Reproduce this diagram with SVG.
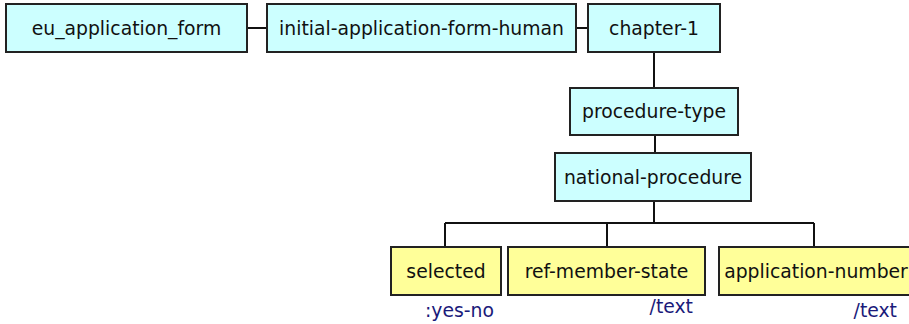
<svg xmlns="http://www.w3.org/2000/svg" width="909" height="324" viewBox="0 0 909 324">
<style>
.c{fill:#ccffff;stroke:#222;stroke-width:2}
.y{fill:#ffff99;stroke:#222;stroke-width:2}
.t{font-family:"DejaVu Sans",Verdana,sans-serif;font-size:18.8px;fill:#111;text-anchor:middle}
.l{font-family:"DejaVu Sans",Verdana,sans-serif;font-size:18.8px;fill:#1a1a7a}
.e{fill:none;stroke:#111;stroke-width:2}
</style>
<rect width="909" height="324" fill="#fff"/>
<g id="connectors">
<path class="e" d="M247 28H267M576 28H588M654 52V88M655 135V153M654 201V223M445 223H814M445 223V247M607 223V247M814 223V247"/>
</g>
<g id="eu_application_form"><rect class="c" x="6" y="4" width="241" height="48"/><text class="t" x="126.5" y="35">eu_application_form</text></g>
<g id="initial-application-form-human"><rect class="c" x="267" y="4" width="309" height="48"/><text class="t" x="421.5" y="35">initial-application-form-human</text></g>
<g id="chapter-1"><rect class="c" x="588" y="4" width="132" height="48"/><text class="t" x="654" y="35">chapter-1</text></g>
<g id="procedure-type"><rect class="c" x="570" y="88" width="168" height="47"/><text class="t" x="654" y="118">procedure-type</text></g>
<g id="national-procedure"><rect class="c" x="555" y="153" width="196" height="48"/><text class="t" x="653" y="184">national-procedure</text></g>
<g id="selected"><rect class="y" x="391" y="247" width="110" height="48"/><text class="t" x="446" y="278">selected</text><text class="l" x="425" y="317">:yes-no</text></g>
<g id="ref-member-state"><rect class="y" x="508" y="247" width="197" height="48"/><text class="t" x="606.5" y="278">ref-member-state</text><text class="l" x="693" y="313" text-anchor="end">/text</text></g>
<g id="application-number"><rect class="y" x="719" y="247" width="194" height="48"/><text class="t" x="816" y="278">application-number</text><text class="l" x="897" y="317" text-anchor="end">/text</text></g>
</svg>
